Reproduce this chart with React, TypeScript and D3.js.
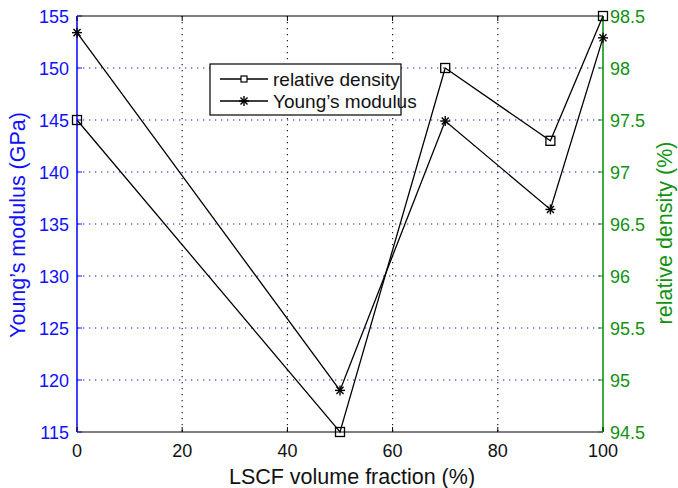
import React from "react";
import * as d3 from "d3";

const fractions = [0, 50, 70, 90, 100];
const youngs = [153.4, 119.0, 144.9, 136.4, 152.9];
const density = [97.5, 94.5, 98.0, 97.3, 98.5];
const xTicks = [0, 20, 40, 60, 80, 100];
const leftTicks = [115, 120, 125, 130, 135, 140, 145, 150, 155];
const rightTicks = [94.5, 95, 95.5, 96, 96.5, 97, 97.5, 98, 98.5];

const W = 678, H = 488;
const L = 77, R = 603, T = 16, B = 432;
const BLUE = "#1010ff";
const GREEN = "#129212";
const FONT = "'Liberation Sans', Arial, Helvetica, sans-serif";

function Square({ x, y }: { x: number; y: number }) {
  return <rect x={x - 4.5} y={y - 4.5} width={9} height={9} fill="none" stroke="#000" strokeWidth={1.3} />;
}
function Star({ x, y }: { x: number; y: number }) {
  const r = 5;
  const lines = [0, 45, 90, 135].map((a) => {
    const rad = (a * Math.PI) / 180;
    return <line key={a} x1={x - r * Math.cos(rad)} y1={y - r * Math.sin(rad)} x2={x + r * Math.cos(rad)} y2={y + r * Math.sin(rad)} stroke="#000" strokeWidth={1.4} />;
  });
  return <g>{lines}</g>;
}

export default function App() {
  const x = d3.scaleLinear().domain([0, 100]).range([L, R]);
  const yL = d3.scaleLinear().domain([115, 155]).range([B, T]);
  const yR = d3.scaleLinear().domain([94.5, 98.5]).range([B, T]);
  const lineY = d3.line<number>().x((_, i) => x(fractions[i])).y((d) => yL(d));
  const lineD = d3.line<number>().x((_, i) => x(fractions[i])).y((d) => yR(d));
  const tl = 5;
  return (
    <svg width={W} height={H} style={{ position: "absolute", left: 0, top: 0, background: "#fff" }} fontFamily={FONT}>
      <rect x={0} y={0} width={W} height={H} fill="#fff" />
      {leftTicks.slice(1, -1).map((t) => (
        <line key={"h" + t} x1={L} x2={R} y1={yL(t)} y2={yL(t)} stroke={BLUE} strokeWidth={1.2} strokeDasharray="1.3 4.7" />
      ))}
      {xTicks.slice(1, -1).map((t) => (
        <line key={"v" + t} x1={x(t)} x2={x(t)} y1={T} y2={B} stroke="#222" strokeWidth={1.2} strokeDasharray="1.3 4.7" />
      ))}
      <line x1={L} x2={R} y1={T} y2={T} stroke="#000" strokeWidth={1.2} />
      <line x1={L} x2={R} y1={B} y2={B} stroke="#000" strokeWidth={1.2} />
      <line x1={L} x2={L} y1={T} y2={B} stroke={BLUE} strokeWidth={1.6} />
      <line x1={R} x2={R} y1={T} y2={B} stroke={GREEN} strokeWidth={1.6} />
      {xTicks.map((t) => (
        <g key={"xt" + t}>
          <line x1={x(t)} x2={x(t)} y1={B} y2={B - tl} stroke="#000" />
          <line x1={x(t)} x2={x(t)} y1={T} y2={T + tl} stroke="#000" />
          <text x={x(t)} y={B + 25} textAnchor="middle" fontSize={18} fill="#111">{t}</text>
        </g>
      ))}
      {leftTicks.map((t) => (
        <g key={"lt" + t}>
          <line x1={L} x2={L + tl} y1={yL(t)} y2={yL(t)} stroke={BLUE} />
          <text x={L - 8} y={yL(t) + 6.5} textAnchor="end" fontSize={18} fill={BLUE}>{t}</text>
        </g>
      ))}
      {rightTicks.map((t) => (
        <g key={"rt" + t}>
          <line x1={R} x2={R - tl} y1={yR(t)} y2={yR(t)} stroke={GREEN} />
          <text x={R + 7} y={yR(t) + 6.5} textAnchor="start" fontSize={18} fill={GREEN}>{t}</text>
        </g>
      ))}
      <path d={lineD(density) || ""} fill="none" stroke="#000" strokeWidth={1.3} />
      <path d={lineY(youngs) || ""} fill="none" stroke="#000" strokeWidth={1.3} />
      {density.map((d, i) => <Square key={"s" + i} x={x(fractions[i])} y={yR(d)} />)}
      {youngs.map((d, i) => <Star key={"p" + i} x={x(fractions[i])} y={yL(d)} />)}
      <text x={352} y={484} textAnchor="middle" fontSize={21.5} fill="#111">LSCF volume fraction (%)</text>
      <text transform={`translate(25,225) rotate(-90)`} textAnchor="middle" fontSize={21.5} fill={BLUE}>Young’s modulus (GPa)</text>
      <text transform={`translate(672,233) rotate(-90)`} textAnchor="middle" fontSize={21.5} fill={GREEN}>relative density (%)</text>
      <rect x={210} y={64} width={191} height={51} fill="#fff" stroke="#000" strokeWidth={1.2} />
      <line x1={220} x2={268} y1={79} y2={79} stroke="#000" strokeWidth={1.3} />
      <rect x={241} y={76} width={6} height={6} fill="#fff" stroke="#000" strokeWidth={1.2} />
      <text x={273} y={86} fontSize={19} fill="#111">relative density</text>
      <line x1={220} x2={268} y1={101} y2={101} stroke="#000" strokeWidth={1.3} />
      <Star x={244} y={101} />
      <text x={273} y={108} fontSize={19} fill="#111">Young’s modulus</text>
    </svg>
  );
}
